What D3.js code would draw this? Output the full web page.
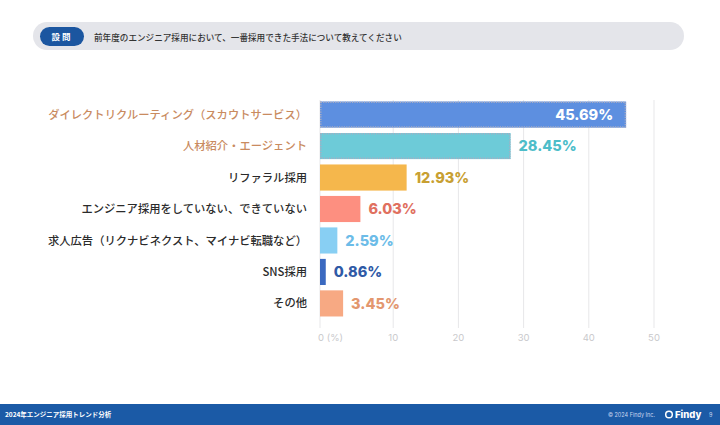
<!DOCTYPE html>
<html><head><meta charset="utf-8">
<script src="https://cdn.jsdelivr.net/npm/d3@7"></script>
<style>
html,body{margin:0;padding:0;background:#fff;}
svg{display:block;}
</style></head>
<body>
<svg id="chart" width="720" height="425"></svg>
<script>
const categories = [
  "ダイレクトリクルーティング（スカウトサービス）",
  "人材紹介・エージェント",
  "リファラル採用",
  "エンジニア採用をしていない、できていない",
  "求人広告（リクナビネクスト、マイナビ転職など）",
  "SNS採用",
  "その他"
];
const values = [45.69, 28.45, 12.93, 6.03, 2.59, 0.86, 3.45];
const barColors = ["#5d8fe0", "#6dcbd8", "#f5b74c", "#fd8f80", "#88cff3", "#3a69c0", "#f7a983"];
const valueColors = ["#ffffff", "#4dbdc9", "#c8a032", "#e0705f", "#6cbce8", "#2f5aa6", "#e3976f"];
const highlighted = [true, true, false, false, false, false, false];
const tickValues = [10, 20, 30, 40, 50];
const question = "前年度のエンジニア採用において、一番採用できた手法について教えてください";
const footerTitle = "2024年エンジニア採用トレンド分析";

const svg = d3.select("#chart");
const jp = "'Noto Sans CJK JP','Noto Sans',sans-serif";

// header
svg.append("rect").attr("x",33).attr("y",22).attr("width",651).attr("height",28).attr("rx",14)
  .attr("fill","#e4e5ea");
svg.append("rect").attr("x",40).attr("y",27).attr("width",44).attr("height",19).attr("rx",9.5)
  .attr("fill","#1b56a0");
svg.append("text").attr("x",62).attr("y",40).attr("text-anchor","middle")
  .attr("font-family",jp).attr("font-weight",700).attr("font-size",8.5).attr("fill","#fff")
  .attr("letter-spacing",2).text("設問");
svg.append("text").attr("x",94).attr("y",40.5)
  .attr("font-family",jp).attr("font-weight",500).attr("font-size",8.6).attr("fill","#333")
  .text(question);

// scales
const x = d3.scaleLinear().domain([0, 50]).range([320, 655]);
const gx = d3.scaleLinear().domain([0, 50]).range([328, 654]);
const y = d3.scaleBand().domain(categories).range([99, 319]).paddingInner(0.17).paddingOuter(0.08);

// grid
const g = svg.append("g");
g.selectAll("line.grid").data(tickValues).join("line").attr("class","grid")
  .attr("x1",d=>gx(d)).attr("x2",d=>gx(d)).attr("y1",100).attr("y2",328)
  .attr("stroke","#e7e7e9").attr("stroke-width",1);
g.append("line").attr("x1",x(0)).attr("x2",x(0)).attr("y1",100).attr("y2",328)
  .attr("stroke","#e7e7e9");
g.selectAll("text.tick").data(tickValues).join("text").attr("class","tick")
  .attr("x",d=>gx(d)).attr("y",341).attr("text-anchor","middle")
  .attr("font-family","Inter,'Noto Sans',sans-serif").attr("font-size",9.5).attr("fill","#c9c9cc")
  .text(d=>d);
g.append("text").attr("x",x(0)-2).attr("y",341)
  .attr("font-family","Inter,'Noto Sans CJK JP',sans-serif").attr("font-size",9.5).attr("fill","#c9c9cc")
  .text("0 (%)");

// bars
const rows = categories.map((c,i)=>({c, v:values[i], col:barColors[i], vc:valueColors[i], hi:highlighted[i], i}));
svg.selectAll("rect.bar").data(rows).join("rect").attr("class","bar")
  .attr("x",x(0)).attr("y",d=>y(d.c)).attr("width",d=>x(d.v)-x(0)).attr("height",y.bandwidth())
  .attr("fill",d=>d.col);
svg.selectAll("rect.outline").data(rows.filter(d=>d.hi)).join("rect").attr("class","outline")
  .attr("x",x(0)+0.75).attr("y",d=>y(d.c)+0.75).attr("width",d=>x(d.v)-x(0)-1.5).attr("height",y.bandwidth()-1.5)
  .attr("fill","none").attr("stroke","#a9adc2").attr("stroke-width",1.5).attr("stroke-dasharray","1.2,1.2");

// category labels
svg.selectAll("text.cat").data(rows).join("text").attr("class","cat")
  .attr("x",307).attr("y",d=>y(d.c)+y.bandwidth()/2).attr("dy","0.36em").attr("text-anchor","end")
  .attr("font-family",jp).attr("font-weight",500).attr("font-size",11.3)
  .attr("fill",d=>d.hi ? "#c98b5f" : "#2b2b2b")
  .text(d=>d.c);

// value labels
svg.selectAll("text.val").data(rows).join("text").attr("class","val")
  .attr("x",d=>d.i===0 ? x(d.v)-13 : x(d.v)+8)
  .attr("y",d=>y(d.c)+y.bandwidth()/2).attr("dy","0.36em")
  .attr("text-anchor",d=>d.i===0 ? "end" : "start")
  .attr("font-family","Inter,Lato,sans-serif").attr("font-weight",800).attr("font-size",14.5)
  .attr("fill",d=>d.vc)
  .text(d=>d.v.toFixed(2)+"%");

// footer
svg.append("rect").attr("x",0).attr("y",404).attr("width",720).attr("height",21).attr("fill","#1b5aa6");
svg.append("text").attr("x",5).attr("y",417).attr("font-family",jp).attr("font-weight",700)
  .attr("font-size",6.5).attr("fill","#fff").text(footerTitle);
svg.append("text").attr("x",655).attr("y",417).attr("text-anchor","end")
  .attr("font-family","Inter,sans-serif").attr("font-size",5.5).attr("fill","#c9d6ee").text("© 2024 Findy Inc.");
svg.append("circle").attr("cx",669).attr("cy",414.5).attr("r",3.3).attr("fill","none").attr("stroke","#fff").attr("stroke-width",1.5);
svg.append("text").attr("x",675).attr("y",418).attr("font-family","Inter,sans-serif").attr("font-weight",800)
  .attr("font-size",9.5).attr("fill","#fff").text("Findy");
svg.append("text").attr("x",709).attr("y",417).attr("font-family","Inter,sans-serif")
  .attr("font-size",5.5).attr("fill","#c9d6ee").text("9");
</script>
</body></html>
